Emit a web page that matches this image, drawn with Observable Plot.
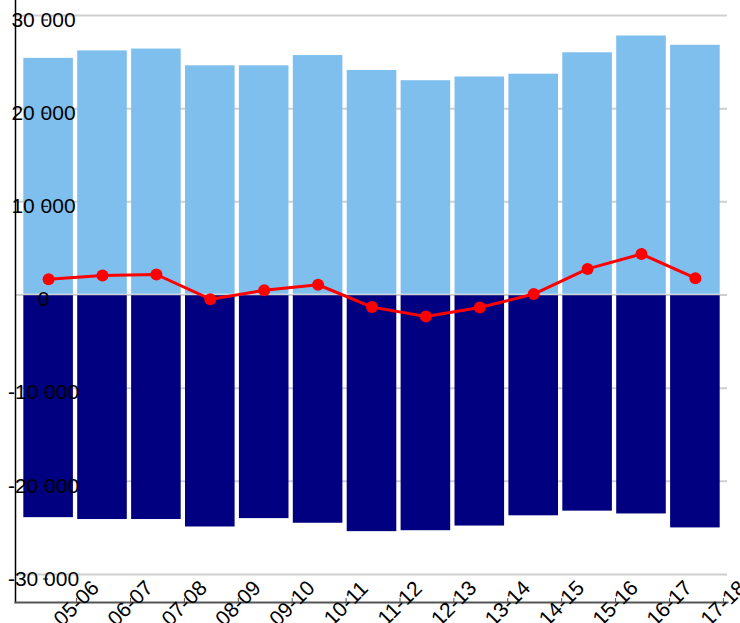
<!DOCTYPE html>
<html><head><meta charset="utf-8">
<script src="https://cdn.jsdelivr.net/npm/d3@7"></script>
<script src="https://cdn.jsdelivr.net/npm/@observablehq/plot@0.6"></script>
<style>body{margin:0;background:#fff}</style>
</head><body><div id="chart"></div>
<script>
const seasons = ["05-06","06-07","07-08","08-09","09-10","10-11","11-12","12-13","13-14","14-15","15-16","16-17","17-18"];
const inflow = [25400, 26200, 26400, 24600, 24600, 25700, 24100, 23000, 23400, 23700, 26000, 27800, 26800];
const outflow = [-23900, -24100, -24100, -24900, -24000, -24500, -25400, -25300, -24800, -23700, -23200, -23500, -25000];
const net = [1700, 2100, 2200, -450, 500, 1100, -1300, -2300, -1350, 100, 2800, 4400, 1800];
const yTicks = [-30000, -20000, -10000, 0, 10000, 20000, 30000];

const rows = seasons.map((s, i) => ({season: s, inflow: inflow[i], outflow: outflow[i], net: net[i]}));
const fmt = d3.formatLocale({decimal: ",", thousands: "\u00a0", grouping: [3], currency: ["", ""], minus: "-"}).format(",d");

const chart = Plot.plot({
  width: 740, height: 623,
  marginTop: 0, marginLeft: 15, marginRight: 13, marginBottom: 21,
  insetLeft: 4, insetRight: 3,
  style: {fontFamily: "'Liberation Sans', Arial, sans-serif", fontSize: "21px", color: "#000", background: "#fff"},
  x: {domain: seasons, padding: 0.08, round: false, label: null},
  y: {domain: [-30000, 30000], range: [574, 15], label: null},
  marks: [
    Plot.gridY(yTicks, {stroke: "#cfcfcf", strokeOpacity: 1, strokeWidth: 2}),
    Plot.barY(rows, {x: "season", y: "inflow", fill: "#7fbfee", insetBottom: 0.75}),
    Plot.barY(rows, {x: "season", y: "outflow", fill: "#000080", insetTop: 0.75}),
    Plot.line(rows, {x: "season", y: "net", stroke: "#ff0000", strokeWidth: 3}),
    Plot.dot(rows, {x: "season", y: "net", fill: "#ff0000", r: 6}),
    Plot.frame({anchor: "left", stroke: "#000", strokeWidth: 1.5}),
    Plot.frame({anchor: "bottom", stroke: "#555", strokeWidth: 2}),
    Plot.axisY(yTicks, {tickFormat: fmt, tickSize: 5, tickPadding: 0, textAnchor: "middle", dx: 33, dy: 4.5, stroke: "#000", fontSize: 21}),
    Plot.axisX({tickSize: 5, tickPadding: 0, tickRotate: -45, textAnchor: "middle", lineAnchor: "middle", dx: 28, dy: -4, stroke: "#555", fontSize: 21})
  ]
});
document.getElementById("chart").append(chart);
</script>
</body></html>
